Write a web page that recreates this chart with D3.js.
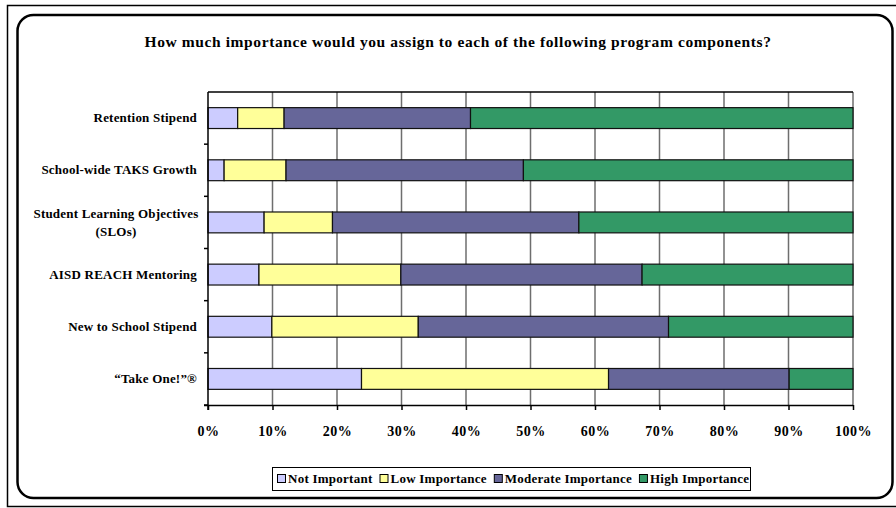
<!DOCTYPE html>
<html>
<head>
<meta charset="utf-8">
<script src="https://cdn.jsdelivr.net/npm/d3@7"></script>
<style>
  html, body { margin: 0; padding: 0; background: #fff; }
  svg text { font-family: "Liberation Serif", "Times New Roman", serif; font-weight: bold; fill: #000; }
</style>
</head>
<body>
<div id="chart"></div>
<script>
// importance survey — 100% stacked bars

const categories = [
  "Retention Stipend",
  "School-wide TAKS Growth",
  "Student Learning Objectives|(SLOs)",
  "AISD REACH Mentoring",
  "New to School Stipend",
  "\u201CTake One!\u201D\u00AE"
];
const seriesNames = ["Not Important", "Low Importance", "Moderate Importance", "High Importance"];
const notImportant = [4.6, 2.5, 8.7, 7.9, 9.9, 23.8];
const lowImportance = [7.2, 9.6, 10.6, 22.0, 22.7, 38.3];
const moderateImportance = [28.9, 36.8, 38.2, 37.4, 38.8, 28.0];
const highImportance = [59.3, 51.1, 42.5, 32.7, 28.6, 9.9];
const xTicks = [0, 10, 20, 30, 40, 50, 60, 70, 80, 90, 100];
const colors = ["#CCCCFF", "#FFFF99", "#666699", "#339966"];

const W = 896, H = 508;
const svg = d3.select("#chart").append("svg").attr("width", W).attr("height", H);

// frames
svg.append("rect")
  .attr("x", 7.5).attr("y", 5.5).attr("width", 890).attr("height", 501)
  .attr("fill", "none").attr("stroke", "#000").attr("stroke-width", 1.5);
svg.append("rect")
  .attr("x", 17.5).attr("y", 15).attr("width", 875).attr("height", 483)
  .attr("rx", 16).attr("ry", 16)
  .attr("fill", "#fff").attr("stroke", "#000").attr("stroke-width", 2.5);

// title
svg.append("text")
  .attr("x", 458).attr("y", 47)
  .attr("text-anchor", "middle")
  .style("font-size", "15.5px")
  .style("letter-spacing", "0.6px")
  .text("How much importance would you assign to each of the following program components?");

const m = { left: 208, right: 853, top: 92, bottom: 405 };

const x = d3.scaleLinear().domain([0, 100]).range([m.left, m.right]);
const y = d3.scaleBand().domain(categories).range([m.top, m.bottom])
  .paddingInner(0.6).paddingOuter(0.3);

// data table for stack
const rows = categories.map((c, i) => ({
  cat: c,
  "Not Important": notImportant[i],
  "Low Importance": lowImportance[i],
  "Moderate Importance": moderateImportance[i],
  "High Importance": highImportance[i]
}));
const stacked = d3.stack().keys(seriesNames)(rows);

// gridlines
svg.append("g").selectAll("line")
  .data(xTicks.slice(1))
  .join("line")
  .attr("x1", d => x(d)).attr("x2", d => x(d))
  .attr("y1", m.top).attr("y2", m.bottom)
  .attr("stroke", "#6e6e6e").attr("stroke-width", 1.5);

// top border of plot area
svg.append("line")
  .attr("x1", m.left).attr("x2", m.right)
  .attr("y1", m.top).attr("y2", m.top)
  .attr("stroke", "#000").attr("stroke-width", 1.5);

// bars
svg.append("g").selectAll("g")
  .data(stacked)
  .join("g")
  .attr("fill", (d, i) => colors[i])
  .selectAll("rect")
  .data(d => d)
  .join("rect")
  .attr("x", d => x(d[0]))
  .attr("width", d => x(d[1]) - x(d[0]))
  .attr("y", d => y(d.data.cat))
  .attr("height", y.bandwidth())
  .attr("stroke", "#111").attr("stroke-width", 1.2);

// x axis
const xAxis = svg.append("g")
  .attr("transform", `translate(0,${m.bottom})`)
  .call(d3.axisBottom(x).tickValues(xTicks).tickSize(5).tickPadding(16).tickFormat(d => d + "%"));
xAxis.select(".domain").attr("stroke", "#000").attr("stroke-width", 1.5)
  .attr("d", `M${m.left - 4},0.5H${m.right}`);
xAxis.selectAll(".tick line").attr("stroke", "#000").attr("stroke-width", 1.5);
xAxis.selectAll(".tick text")
  .style("font-family", "'Liberation Serif', serif")
  .style("font-weight", "bold")
  .style("font-size", "14px")
  .style("letter-spacing", "0.5px");

// y axis line + boundary ticks
svg.append("line")
  .attr("x1", m.left).attr("x2", m.left)
  .attr("y1", m.top).attr("y2", m.bottom + 5)
  .attr("stroke", "#000").attr("stroke-width", 1.5);
svg.append("g").selectAll("line")
  .data(d3.range(1, categories.length + 1))
  .join("line")
  .attr("x1", m.left - 4).attr("x2", m.left)
  .attr("y1", i => m.top + i * y.step()).attr("y2", i => m.top + i * y.step())
  .attr("stroke", "#000").attr("stroke-width", 1.5);

// category labels
const labels = svg.append("g").selectAll("text")
  .data(categories)
  .join("text")
  .attr("text-anchor", d => d.includes("|") ? "middle" : "end")
  .style("font-size", "13px")
  .style("letter-spacing", "0.2px");
labels.each(function (d) {
  const cy = y(d) + y.bandwidth() / 2;
  const parts = d.split("|");
  const t = d3.select(this);
  if (parts.length === 1) {
    t.attr("x", 197).attr("y", cy + 4).text(d);
  } else {
    t.attr("x", 116).attr("y", cy - 4);
    parts.forEach((p, k) => {
      t.append("tspan").attr("x", 116).attr("dy", k === 0 ? 0 : 18).text(p);
    });
  }
});

// legend
const lg = svg.append("g");
lg.append("rect")
  .attr("x", 272.5).attr("y", 467.5).attr("width", 478).attr("height", 23)
  .attr("fill", "#fff").attr("stroke", "#000").attr("stroke-width", 1);
let lx = 277;
seriesNames.forEach((s, i) => {
  lg.append("rect")
    .attr("x", lx + 0.5).attr("y", 474.5).attr("width", 8).attr("height", 8)
    .attr("fill", colors[i]).attr("stroke", "#000").attr("stroke-width", 1);
  const t = lg.append("text")
    .attr("x", lx + 11).attr("y", 483)
    .style("font-size", "13px")
    .style("letter-spacing", "0.25px")
    .text(s);
  lx += 11 + t.node().getComputedTextLength() + 7;
});
</script>
</body>
</html>
